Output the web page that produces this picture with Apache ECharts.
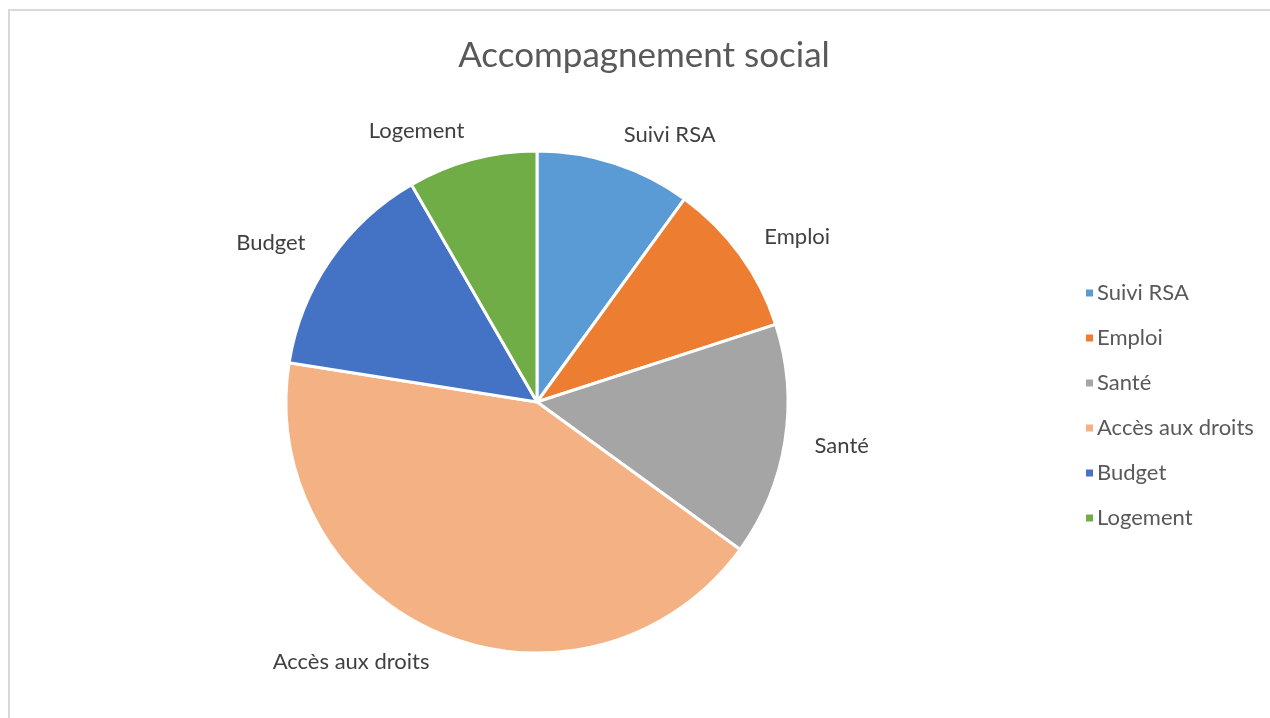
<!DOCTYPE html>
<html>
<head>
<meta charset="utf-8">
<script src="https://cdn.jsdelivr.net/npm/echarts@6/dist/echarts.min.js"></script>
<style>
html,body{margin:0;padding:0;width:1270px;height:718px;overflow:hidden;background:#fff;}
#frame{position:absolute;left:8px;top:9px;width:1300px;height:760px;border:2px solid #D9D9D9;box-sizing:border-box;}
#chart{position:absolute;left:0;top:0;width:1270px;height:718px;}
</style>
</head>
<body>
<div id="frame"></div>
<div id="chart"></div>
<script>
const titleText = "Accompagnement social";
const categories = ["Suivi RSA", "Emploi", "Santé", "Accès aux droits", "Budget", "Logement"];
const values = [12, 12, 18, 51, 17, 10];
const colors = ["#5B9BD5", "#ED7D31", "#A5A5A5", "#F4B183", "#4472C4", "#70AD47"];

const FONT = "Lato, 'Open Sans', sans-serif";
const chart = echarts.init(document.getElementById('chart'), null, {renderer: 'canvas'});
chart.setOption({
  backgroundColor: 'transparent',
  animation: false,
  color: colors,
  title: {
    text: titleText,
    left: 639,
    top: 33,
    textAlign: 'center',
    textStyle: {fontFamily: FONT, fontSize: 35, fontWeight: 'normal', color: '#595959'}
  },
  legend: {
    orient: 'vertical',
    left: 1079,
    top: 277,
    icon: 'rect',
    itemWidth: 9,
    itemHeight: 9,
    itemGap: 23,
    textStyle: {fontFamily: FONT, fontSize: 22, lineHeight: 22, color: '#595959', padding: [0,0,0,-2]},
    data: categories
  },
  series: [{
    type: 'pie',
    center: [537, 402],
    radius: [0, 251],
    startAngle: 90,
    clockwise: true,
    data: categories.map((c, i) => ({name: c, value: values[i]})),
    itemStyle: {borderColor: '#fff', borderWidth: 3},
    label: {
      show: true,
      position: 'outside',
      formatter: '{b}',
      fontFamily: FONT,
      fontSize: 22,
      color: '#404040',
      distanceToLabelLine: 0
    },
    labelLine: {show: false, length: 30, length2: 0},
    emphasis: {disabled: true}
  }]
});
</script>
</body>
</html>
